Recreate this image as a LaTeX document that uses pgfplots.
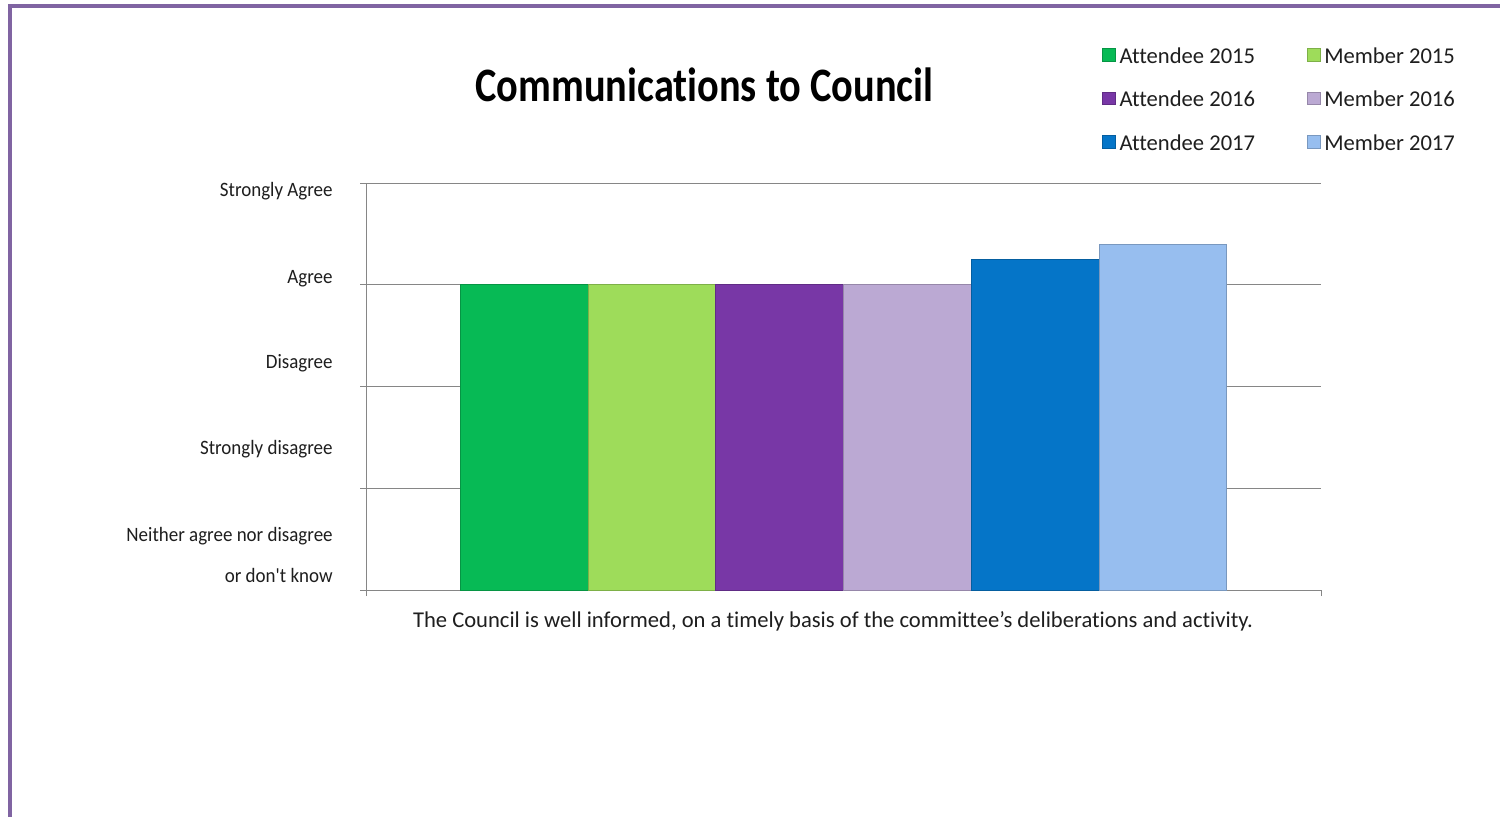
\documentclass[border=0pt]{standalone}
\usepackage{pgfplots}
\pgfplotsset{compat=1.18}
\usepackage{fontspec}
\setmainfont{Carlito}[Ligatures={TeX,NoCommon}]
\definecolor{framepurple}{HTML}{8064A2}
\definecolor{cA15}{HTML}{07BA55}
\definecolor{cM15}{HTML}{9EDC5A}
\definecolor{cA16}{HTML}{7837A6}
\definecolor{cM16}{HTML}{BBA9D3}
\definecolor{cA17}{HTML}{0575C8}
\definecolor{cM17}{HTML}{97BEEF}
\definecolor{gridgray}{HTML}{868686}
\definecolor{txt}{HTML}{1E1E1E}
\begin{document}
\begin{tikzpicture}
\useasboundingbox (0,0) rectangle (750pt,408pt);
\fill[white] (0,0) rectangle (750pt,408pt);
\draw[framepurple, line width=2.1pt] (5.1pt,-3pt) -- (5.1pt,404.9pt) -- (753pt,404.9pt);
\begin{axis}[
  at={(183pt,113pt)}, anchor=south west,
  scale only axis, width=477.5pt, height=203.5pt,
  xmin=-0.5, xmax=0.5, ymin=0, ymax=4,
  ybar=0pt, bar width=63.85pt,
  axis x line*=bottom, axis y line*=left,
  axis line style={gridgray, line width=0.5pt, -},
  xtick={-0.5,0.5}, xticklabels={},
  ytick={0,1,2,3,4}, yticklabels={},
  tick align=outside, major tick length=3pt,
  tick style={gridgray, line width=0.5pt},
  ymajorgrids, grid style={gridgray, line width=0.5pt},
  legend columns=2,
  legend cell align=left,
  legend image code/.code={\draw[#1, line width=0.3pt] (0pt,-1.8pt) rectangle (6.3pt,4.5pt);},
  legend style={at={(0.7707,1.3341)}, anchor=north west, draw=none, fill=none,
    inner sep=0pt, font=\fontsize{11.3}{13}\selectfont, text=txt,
    /tikz/row sep=11.75pt,
    nodes={inner sep=0pt, text height=8pt, text depth=2pt},
    /tikz/every odd column/.append style={column sep=2pt},
    /tikz/every even column/.append style={column sep=26pt}},
]
\addplot[fill=cA15, draw=cA15!80!black, line width=0.4pt] coordinates {(0,3.00)};
\addplot[fill=cM15, draw=cM15!80!black, line width=0.4pt] coordinates {(0,3.00)};
\addplot[fill=cA16, draw=cA16!80!black, line width=0.4pt] coordinates {(0,3.00)};
\addplot[fill=cM16, draw=cM16!80!black, line width=0.4pt] coordinates {(0,3.00)};
\addplot[fill=cA17, draw=cA17!80!black, line width=0.4pt] coordinates {(0,3.25)};
\addplot[fill=cM17, draw=cM17!80!black, line width=0.4pt] coordinates {(0,3.40)};
\legend{Attendee 2015, Member 2015, Attendee 2016, Member 2016, Attendee 2017, Member 2017}
\end{axis}
\node[anchor=base, text=black, font=\bfseries\fontsize{24}{28}\selectfont, inner sep=0pt] at (352.25pt,357.15pt) {\scalebox{0.84}[1]{Communications to Council}};
\node[anchor=base, text=txt, font=\fontsize{11.3}{13}\selectfont, inner sep=0pt] at (416.5pt,94.2pt) {The Council is well informed, on a timely basis of the committee’s deliberations and activity.};
\begin{scope}[every node/.style={anchor=base east, inner sep=0pt, text=txt, font=\fontsize{10.2}{12}\selectfont}]
\node at (166.5pt,309.65pt) {\scalebox{0.93}[1]{Strongly Agree}};
\node at (166.5pt,266.35pt) {\scalebox{0.93}[1]{Agree}};
\node at (166.5pt,223.85pt) {\scalebox{0.93}[1]{Disagree}};
\node at (166.5pt,180.85pt) {\scalebox{0.93}[1]{Strongly disagree}};
\node at (166.5pt,137.15pt) {\scalebox{0.93}[1]{Neither agree nor disagree}};
\node at (166.5pt,116.85pt) {\scalebox{0.93}[1]{or don\textquotesingle t know}};
\end{scope}
\end{tikzpicture}
\end{document}
